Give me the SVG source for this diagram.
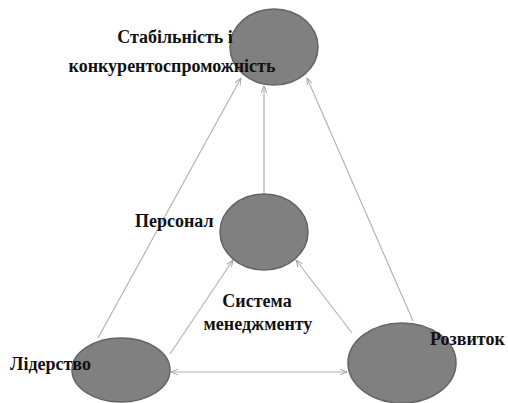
<svg xmlns="http://www.w3.org/2000/svg" width="508" height="403" viewBox="0 0 508 403">
<style>
.node{fill:#808080;stroke:#646464;stroke-width:1.5}
.edge{stroke:#b4b4b4;stroke-width:1.2;fill:none}
.lbl{font-family:"Liberation Serif","Times New Roman",serif;font-weight:bold;font-size:18px;fill:#111111}
</style>
<defs>
<marker id="arr" viewBox="0 0 10 10" refX="10" refY="5" markerWidth="7" markerHeight="7" orient="auto-start-reverse" markerUnits="userSpaceOnUse">
<path d="M0,1 L10,5 L0,9" fill="none" stroke="#a0a0a0" stroke-width="1.3"/>
</marker>
</defs>
<rect width="508" height="403" fill="#ffffff"/>
<g id="connectors">
<line class="edge" x1="98" y1="338" x2="241" y2="78" marker-end="url(#arr)"/>
<line class="edge" x1="264" y1="193" x2="264" y2="86" marker-end="url(#arr)"/>
<line class="edge" x1="413" y1="321" x2="307" y2="78" marker-end="url(#arr)"/>
<line class="edge" x1="170" y1="354" x2="233" y2="260" marker-end="url(#arr)"/>
<line class="edge" x1="352" y1="333" x2="296" y2="260" marker-end="url(#arr)"/>
<line class="edge" x1="171" y1="372" x2="347" y2="372" marker-start="url(#arr)" marker-end="url(#arr)"/>
</g>
<g id="node-stability">
<ellipse class="node" cx="274" cy="47" rx="44" ry="38"/>
<text class="lbl" x="175" y="43" text-anchor="middle">Стабільність і</text>
<text class="lbl" x="172" y="72" text-anchor="middle">конкурентоспроможність</text>
</g>
<g id="node-personnel">
<ellipse class="node" cx="264" cy="232" rx="44" ry="38"/>
<text class="lbl" x="135" y="227">Персонал</text>
</g>
<g id="node-leadership">
<ellipse class="node" cx="121" cy="370" rx="49" ry="32"/>
<text class="lbl" x="10" y="370">Лідерство</text>
</g>
<g id="node-development">
<ellipse class="node" cx="402" cy="363" rx="54" ry="40"/>
<text class="lbl" x="430" y="345">Розвиток</text>
</g>
<g id="center-label">
<text class="lbl" x="257" y="307" text-anchor="middle">Система</text>
<text class="lbl" x="258" y="330" text-anchor="middle">менеджменту</text>
</g>
</svg>
